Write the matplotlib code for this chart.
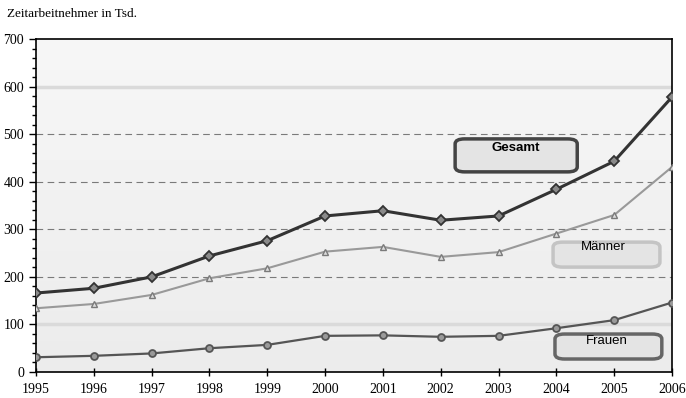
import matplotlib
matplotlib.use("Agg")
import matplotlib.pyplot as plt
from matplotlib.patches import FancyBboxPatch
from matplotlib.ticker import MultipleLocator
import numpy as np

years = [1995, 1996, 1997, 1998, 1999, 2000, 2001, 2002, 2003, 2004, 2005, 2006]
gesamt = [166, 176, 200, 244, 276, 328, 339, 319, 328, 384, 443, 578]
maenner = [134, 143, 162, 197, 218, 253, 263, 242, 252, 291, 330, 431]
frauen = [31, 34, 39, 50, 57, 76, 77, 74, 76, 92, 109, 146]
title = "Zeitarbeitnehmer in Tsd."

fig = plt.figure(figsize=(6.86, 3.98), dpi=100)
fig.patch.set_facecolor("white")
ax = fig.add_axes([36/686, 1-372/398, 636/686, 333/398])

# background gradient
grad = np.linspace(0, 1, 256).reshape(-1, 1)
ax.imshow(grad, extent=[0, 1, 0, 1], transform=ax.transAxes, aspect="auto",
          cmap=matplotlib.colors.LinearSegmentedColormap.from_list("bg", ["#ececec", "#f7f7f7"]),
          origin="lower", zorder=0)

ax.set_xlim(1995, 2006)
ax.set_ylim(0, 700)

for v in [200, 300, 400, 500]:
    ax.axhline(v, color="#7a7a7a", lw=0.8, ls=(0, (6, 4)), zorder=1)
for v in [100, 600]:
    ax.axhline(v, color="#dadada", lw=2.5, zorder=1)

ax.plot(years, maenner, color="#999999", lw=1.5, marker="^", ms=5,
        mfc="#dddddd", mec="#7a7a7a", mew=1, zorder=3)
ax.plot(years, frauen, color="#555555", lw=1.6, marker="o", ms=5,
        mfc="#9a9a9a", mec="#555555", mew=1.3, zorder=3)
ax.plot(years, gesamt, color="#333333", lw=2.2, marker="D", ms=5,
        mfc="#8a8a8a", mec="#333333", mew=1.3, zorder=4)

ax.set_xticks(years)
ax.set_xticklabels([str(y) for y in years])
ax.yaxis.set_major_locator(MultipleLocator(100))
ax.yaxis.set_minor_locator(MultipleLocator(20))
ax.tick_params(axis="y", which="major", direction="out", length=5, width=1, labelsize=10)
ax.tick_params(axis="y", which="minor", direction="out", length=3, width=1)
ax.tick_params(axis="x", which="major", direction="inout", length=6, width=1, labelsize=10, pad=5)
for lab in ax.get_xticklabels() + ax.get_yticklabels():
    lab.set_fontfamily("Liberation Serif")
for s in ax.spines.values():
    s.set_color("black")
    s.set_linewidth(1.2)

fig.text(7/686, 1-14/398, title, family="Liberation Serif", fontsize=9.5,
         va="center", ha="left")

def box(x0, y0, x1, y1, ec, lw):
    p = FancyBboxPatch((x0, y0), x1-x0, y1-y0, boxstyle="round,pad=0,rounding_size=0.015",
                       transform=ax.transAxes, fc="#e4e4e4", ec=ec, lw=lw, zorder=5)
    ax.add_patch(p)

box(0.659, 0.601, 0.851, 0.700, "#444444", 2.5)
ax.text(0.755, 0.672, "Gesamt", transform=ax.transAxes, ha="center", va="center",
        family="Liberation Sans", fontweight="bold", fontsize=9.5, zorder=6)
box(0.813, 0.315, 0.981, 0.390, "#c4c4c4", 2.5)
ax.text(0.892, 0.375, "Männer", transform=ax.transAxes, ha="center", va="center",
        family="Liberation Sans", fontsize=9.5, zorder=6)
box(0.816, 0.039, 0.984, 0.114, "#666666", 2.5)
ax.text(0.898, 0.093, "Frauen", transform=ax.transAxes, ha="center", va="center",
        family="Liberation Sans", fontsize=9.5, zorder=6)

fig.savefig("out.png", dpi=100)
